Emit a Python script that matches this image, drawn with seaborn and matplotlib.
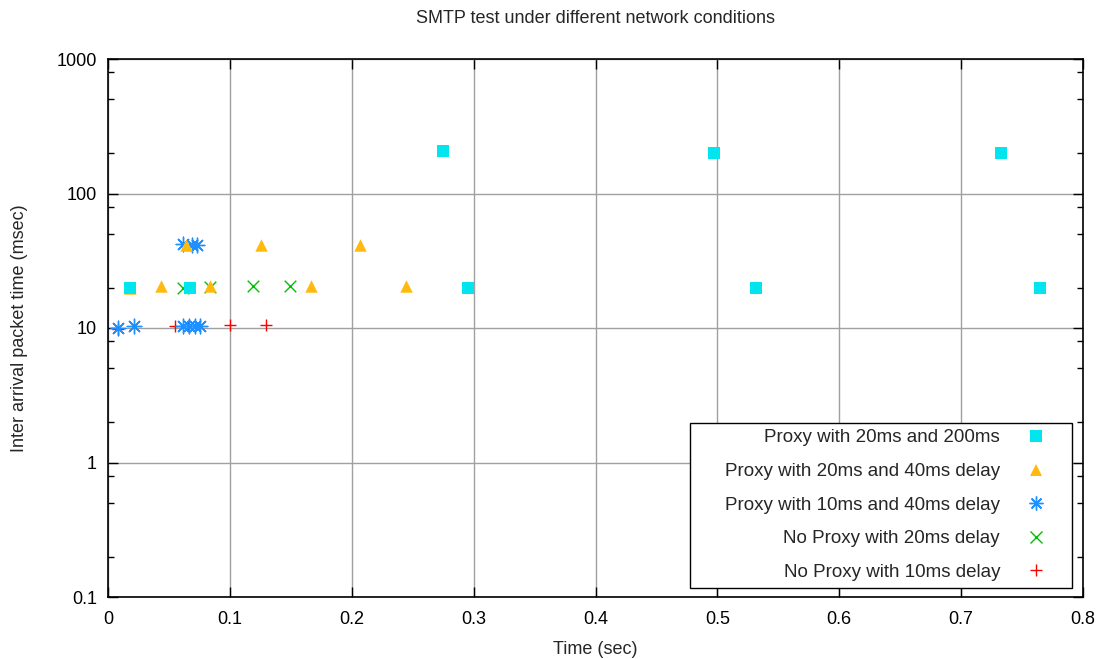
import matplotlib
matplotlib.use("Agg")
import matplotlib.pyplot as plt
import seaborn as sns
import pandas as pd
import numpy as np
from matplotlib.ticker import FixedLocator, FixedFormatter, NullFormatter
from matplotlib.lines import Line2D
from matplotlib.patches import Rectangle

# ---- data ----
labels = ["Proxy with 20ms and 200ms",
          "Proxy with 20ms and 40ms delay",
          "Proxy with 10ms and 40ms delay",
          "No Proxy with 20ms delay",
          "No Proxy with 10ms delay"]

cyan_x = [0.018, 0.067, 0.275, 0.295, 0.497, 0.532, 0.733, 0.765]
cyan_y = [19.8, 20.0, 207, 20.0, 200, 20.0, 200, 20.0]

orange_x = [0.018, 0.0435, 0.064, 0.0837, 0.1255, 0.1665, 0.207, 0.2445]
orange_y = [20.0, 20.5, 41.4, 20.4, 41.5, 20.5, 41.5, 20.5]

blue_x = [0.008, 0.0216, 0.0615, 0.069, 0.0734, 0.0617, 0.0665, 0.071, 0.0755]
blue_y = [10.0, 10.3, 42.0, 41.5, 41.5, 10.3, 10.3, 10.3, 10.3]

green_x = [0.0615, 0.0837, 0.119, 0.149]
green_y = [20.0, 20.2, 20.5, 20.5]

red_x = [0.008, 0.055, 0.066, 0.100, 0.130]
red_y = [9.8, 10.3, 10.3, 10.6, 10.6]

colors = ["#00e5ee", "#ffb90f", "#1e90ff", "#00c000", "#ff0000"]

yticks = [0.1, 1, 10, 100, 1000]
ytick_labels = ["0.1", "1", "10", "100", "1000"]
xticks = [0, 0.1, 0.2, 0.3, 0.4, 0.5, 0.6, 0.7, 0.8]
xtick_labels = ["0", "0.1", "0.2", "0.3", "0.4", "0.5", "0.6", "0.7", "0.8"]

# ---- style ----
sns.set_theme(style="white")
plt.rcParams["font.family"] = ["Liberation Sans", "DejaVu Sans"]

W, H = 1100, 659
fig = plt.figure(figsize=(11, 6.59), dpi=100)
ax = fig.add_axes([108/W, 1-597/H, (1083-108)/W, (597-59)/H])

asterisk = (8, 2, 0)
series = [
    (cyan_x, cyan_y, "s", 80, colors[0], dict(linewidth=0)),
    (orange_x, orange_y, "^", 80, colors[1], dict(linewidth=0)),
    (blue_x, blue_y, asterisk, 110, colors[2], dict(linewidth=1.0)),
    (green_x, green_y, "x", 70, colors[3], dict(linewidth=1.0)),
    (red_x, red_y, "+", 80, colors[4], dict(linewidth=1.0)),
]

# draw in reverse order so the first series sits on top (as in reference)
for i in reversed(range(len(series))):
    xs, ys, mk, s, c, kw = series[i]
    df = pd.DataFrame({"x": xs, "y": ys})
    sns.scatterplot(data=df, x="x", y="y", marker=mk, s=s, color=c,
                    ax=ax, zorder=3 + (len(series) - i), legend=False, **kw)

ax.set_yscale("log")
ax.set_xlim(0, 0.8)
ax.set_ylim(0.1, 1000)

ax.yaxis.set_major_locator(FixedLocator(yticks))
ax.yaxis.set_major_formatter(FixedFormatter(ytick_labels))
minors = []
for d in [0.1, 1, 10, 100]:
    minors += [2*d, 5*d, 8*d]
ax.yaxis.set_minor_locator(FixedLocator(minors))
ax.yaxis.set_minor_formatter(NullFormatter())
ax.xaxis.set_major_locator(FixedLocator(xticks))
ax.xaxis.set_major_formatter(FixedFormatter(xtick_labels))

ax.tick_params(which="both", direction="in", top=True, right=True,
               left=True, bottom=True, colors="black", labelsize=13)
ax.tick_params(which="major", length=7, width=1)
ax.tick_params(which="minor", length=4, width=1)
ax.tick_params(axis="x", which="major", pad=10)
ax.tick_params(axis="y", which="major", pad=8)

ax.grid(True, which="major", color="#a0a0a0", linewidth=1)
ax.set_axisbelow(True)
for sp in ax.spines.values():
    sp.set_color("black")
    sp.set_linewidth(1.2)

ax.set_xlabel("Time (sec)", fontsize=13)
ax.set_ylabel("Inter arrival packet time (msec)", fontsize=13)
ax.xaxis.set_label_coords(0.5, (597-650)/538)
ax.yaxis.set_label_coords((20-108)/975, 0.5)
ax.xaxis.label.set_va("center")
ax.yaxis.label.set_va("center")
ax.set_title("SMTP test under different network conditions", fontsize=13, pad=26)

handles = []
for (xs, ys, mk, s, c, kw), lab in zip(series, labels):
    filled = mk in ("s", "^")
    handles.append(Line2D([], [], linestyle="none", marker=mk,
                          markersize=np.sqrt(s) * 0.95,
                          markerfacecolor=c if filled else "none",
                          markeredgecolor=c, markeredgewidth=0 if filled else 1.0,
                          label=lab))
fs = 13.5
leg = ax.legend(handles=handles, loc="lower right",
                bbox_to_anchor=((1051-108)/975, (597-581)/538),
                borderaxespad=0, markerfirst=False, fontsize=fs,
                labelspacing=0.88, handletextpad=1.12, borderpad=0,
                handlelength=1.6, frameon=False)
for t in leg.get_texts():
    t.set_ha("right")

# legend frame with gnuplot-like generous padding around the entries
fig.canvas.draw()
bb = leg.get_window_extent()
pad_l, pad_r, pad_t, pad_b = 35, 21, 6, 7
rect = Rectangle((bb.x0 - pad_l, bb.y0 - pad_b),
                 bb.width + pad_l + pad_r, bb.height + pad_t + pad_b,
                 transform=None, facecolor="white", edgecolor="black",
                 linewidth=1.0, zorder=9)
fig.add_artist(rect)
leg.set_zorder(10)
fig.add_artist(leg)

fig.savefig("out.png", dpi=100, facecolor="white")
